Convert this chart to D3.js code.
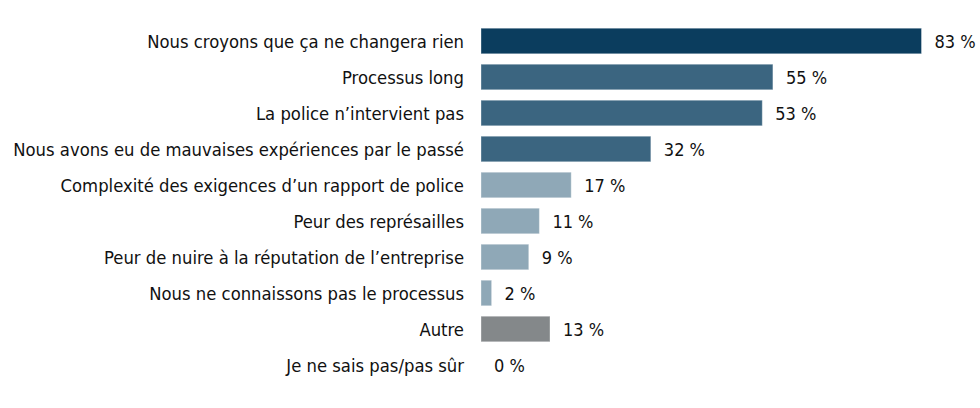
<!DOCTYPE html>
<html>
<head>
<meta charset="utf-8">
<script src="https://cdn.jsdelivr.net/npm/d3@7"></script>
<style>
  body { margin: 0; background: #fff; }
</style>
</head>
<body>
<div id="chart"></div>
<script>
// Data
//-----------
var categories = [
	"Nous croyons que ça ne changera rien",
	"Processus long",
	"La police n’intervient pas",
	"Nous avons eu de mauvaises expériences par le passé",
	"Complexité des exigences d’un rapport de police",
	"Peur des représailles",
	"Peur de nuire à la réputation de l’entreprise",
	"Nous ne connaissons pas le processus",
	"Autre",
	"Je ne sais pas/pas sûr"
];
var values = [83, 55, 53, 32, 17, 11, 9, 2, 13, 0];
var groups = ["top", "mid", "mid", "mid", "low", "low", "low", "low", "other", "other"];

// Visualization attributes
//-----------
var w = 980;
var h = 408;
var left = 481;
var font = "'DejaVu Sans Condensed', 'DejaVu Sans', sans-serif";

var colors = {top: "#0b3d5e", mid: "#3b6580", low: "#8fa8b7", other: "#84888a"};

// Scales
//-----------
var xScale = d3.scaleLinear([0, 83], [left, 921.5]);

var yScale = d3.scaleBand(d3.range(categories.length), [23, 23 + 36 * categories.length])
	.paddingInner(0.29)
	.paddingOuter(0.145);

// SVG
//-----------
var svg = d3.select("#chart")
	.append("svg")
	.attr("width", w)
	.attr("height", h);

// Bars
//-----------
svg.selectAll("rect")
	.data(values)
	.enter()
	.append("rect")
	.attr("x", xScale(0))
	.attr("y", function(d, i) { return yScale(i); })
	.attr("width", function(d) { return xScale(d) - xScale(0); })
	.attr("height", yScale.bandwidth())
	.attr("fill", function(d, i) { return colors[groups[i]]; })
	.attr("stroke", "#ffffff")
	.attr("stroke-opacity", 0.35)
	.attr("stroke-width", 1);

// Category labels
//-----------
svg.selectAll("text.cat")
	.data(categories)
	.enter()
	.append("text")
	.attr("class", "cat")
	.text(function(d) { return d; })
	.attr("text-anchor", "end")
	.attr("x", left - 17)
	.attr("y", function(d, i) { return yScale(i) + yScale.bandwidth() / 2 + 6.5; })
	.attr("font-family", font)
	.attr("font-size", "18.3px")
	.attr("fill", "#111111");

// Value labels
//-----------
svg.selectAll("text.val")
	.data(values)
	.enter()
	.append("text")
	.attr("class", "val")
	.text(function(d) { return d + " %"; })
	.attr("x", function(d) { return xScale(d) + 13; })
	.attr("y", function(d, i) { return yScale(i) + yScale.bandwidth() / 2 + 6.5; })
	.attr("font-family", font)
	.attr("font-size", "18px")
	.attr("fill", "#111111");
</script>
</body>
</html>
